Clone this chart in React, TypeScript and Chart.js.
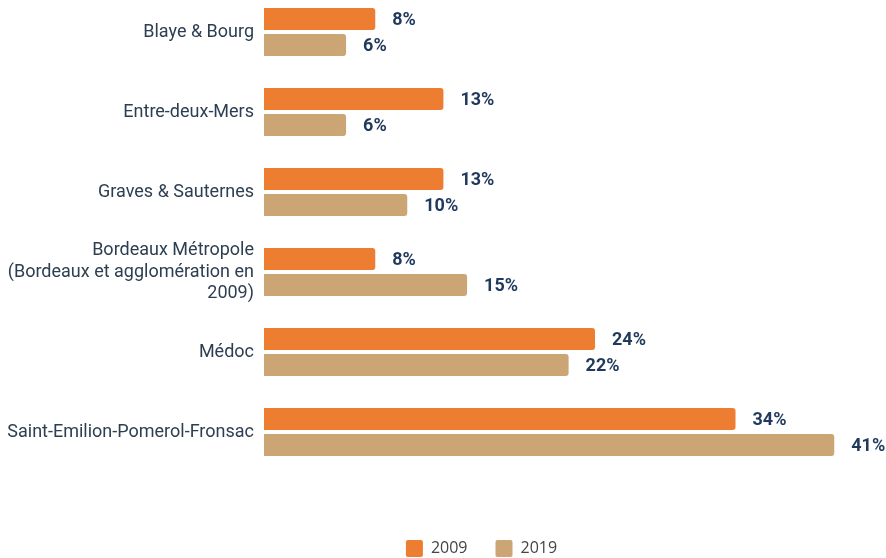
import React, { useEffect, useRef } from "react";
import { Chart, registerables } from "chart.js";

Chart.register(...registerables);

const categories: (string | string[])[] = [
  "Blaye & Bourg",
  "Entre-deux-Mers",
  "Graves & Sauternes",
  ["Bordeaux Métropole", "(Bordeaux et agglomération en", "2009)"],
  "Médoc",
  "Saint-Emilion-Pomerol-Fronsac",
];
const series2009 = [8.0, 12.9, 12.9, 8.0, 23.8, 33.9];
const series2019 = [5.9, 5.9, 10.3, 14.6, 21.9, 41.0];
const seriesNames = ["2009", "2019"];
const colors = ["#ED7D31", "#CCA575"];

const labelPlugin = {
  id: "barValueLabels",
  afterDatasetsDraw(chart: any) {
    const ctx = chart.ctx;
    ctx.save();
    ctx.font = "bold 18px Roboto";
    ctx.fillStyle = "#1F3A5C";
    ctx.textAlign = "left";
    ctx.textBaseline = "middle";
    chart.data.datasets.forEach((ds: any, di: number) => {
      const meta = chart.getDatasetMeta(di);
      meta.data.forEach((el: any, i: number) => {
        const v = ds.data[i];
        ctx.fillText(Math.round(v) + "%", el.x + 17, el.y + 1);
      });
    });
    ctx.restore();
  },
};

const legendShift = {
  id: "legendShift",
  afterLayout(chart: any) {
    if (chart.legend) {
      chart.legend.left = 87;
    }
  },
};

export default function App() {
  const ref = useRef<HTMLCanvasElement | null>(null);
  useEffect(() => {
    if (!ref.current) return;
    const chart = new Chart(ref.current, {
      type: "bar",
      data: {
        labels: categories as any,
        datasets: [
          {
            label: seriesNames[0],
            data: series2009,
            backgroundColor: colors[0],
            borderRadius: 3,
            borderSkipped: "start",
            categoryPercentage: 0.65,
            barPercentage: 0.846,
          },
          {
            label: seriesNames[1],
            data: series2019,
            backgroundColor: colors[1],
            borderRadius: 3,
            borderSkipped: "start",
            categoryPercentage: 0.65,
            barPercentage: 0.846,
          },
        ],
      },
      options: {
        indexAxis: "y",
        animation: false,
        responsive: false,
        maintainAspectRatio: false,
        layout: { padding: { left: 0, right: 10, top: 0, bottom: 0 } },
        scales: {
          x: {
            min: 0,
            max: 44,
            display: true,
            grid: { display: false, drawTicks: false },
            border: { display: false },
            ticks: { display: false },
            afterFit: (axis: any) => {
              axis.height = 40;
              axis.paddingLeft = 0;
              axis.paddingRight = 0;
              axis.paddingTop = 0;
              axis.paddingBottom = 0;
            },
          },
          y: {
            grid: { display: false, drawTicks: false },
            border: { display: false },
            ticks: {
              padding: 10,
              color: "#2C3E50",
              font: { family: "Roboto", size: 18, lineHeight: 1.2 },
            },
            afterFit: (axis: any) => {
              axis.width = 264;
              axis.paddingLeft = 0;
              axis.paddingRight = 0;
              axis.paddingTop = 0;
              axis.paddingBottom = 0;
            },
          },
        },
        plugins: {
          legend: {
            position: "bottom",
            labels: {
              boxWidth: 17,
              boxHeight: 17,
              padding: 28,
              color: "#444444",
              useBorderRadius: true,
              borderRadius: 2,
              font: { family: "Open Sans", size: 16 },
            },
          },
          tooltip: { enabled: false },
        },
      },
      plugins: [labelPlugin, legendShift],
    });
    return () => chart.destroy();
  }, []);
  return (
    <div
      style={{
        position: "fixed",
        left: 0,
        top: 0,
        width: 886,
        height: 558,
        overflow: "hidden",
        background: "#fff",
      }}
    >
      <canvas
        ref={ref}
        width={886}
        height={575}
        style={{ position: "absolute", left: 0, top: -8, width: 886, height: 575 }}
      />
    </div>
  );
}
